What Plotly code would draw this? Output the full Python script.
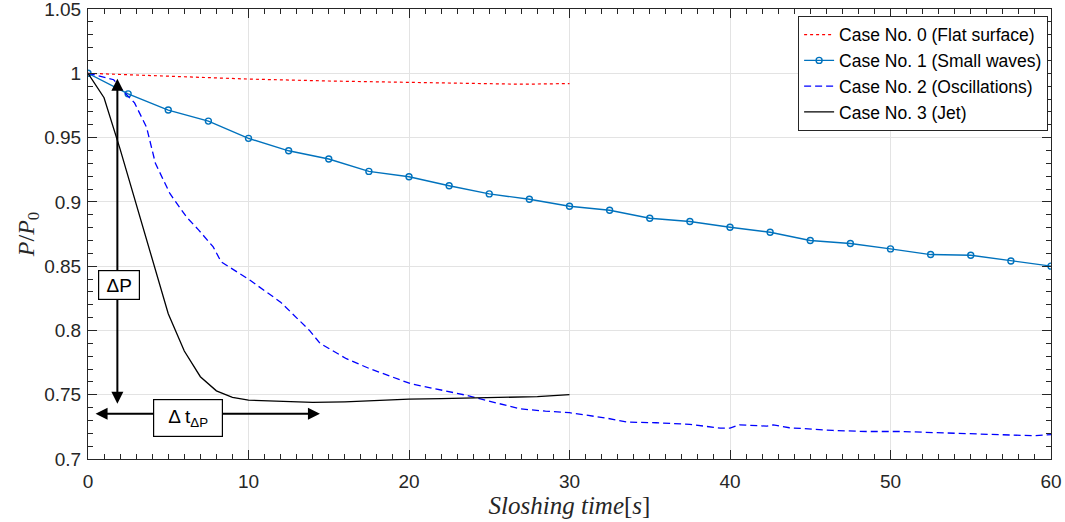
import plotly.graph_objects as go

# Pressure ratio P/P0 versus sloshing time for the four test cases
t_case0 = [0, 2, 5, 10, 15, 20, 25, 27, 30]
p_case0 = [1.0, 0.999, 0.9975, 0.9955, 0.994, 0.993, 0.9918, 0.9915, 0.992]

t_case1 = [0, 2.5, 5, 7.5, 10, 12.5, 15, 17.5, 20, 22.5, 25, 27.5, 30,
           32.5, 35, 37.5, 40, 42.5, 45, 47.5, 50, 52.5, 55, 57.5, 60]
p_case1 = [1.0, 0.984, 0.9714, 0.9628, 0.9494, 0.9397, 0.9333, 0.9237, 0.9195,
           0.9125, 0.9062, 0.902, 0.8966, 0.8935, 0.8873, 0.8847, 0.8803, 0.8764,
           0.8699, 0.8676, 0.8634, 0.859, 0.8585, 0.854, 0.850]

t_case2 = [0, 1.6, 2.2, 2.9, 3.65, 4.0, 4.2, 5.1, 6.15, 6.9, 7.8, 8.3, 10.1, 12.0,
           13.8, 14.45, 16.1, 17.6, 20.1, 23.6, 26.9, 28.5, 30, 32.3, 33.6, 35.4,
           37.5, 39.4, 40, 40.6, 42.3, 42.7, 43.7, 46.4, 48.5, 50.6, 53.3, 55.8,
           58.9, 60]
p_case2 = [1.0, 0.995, 0.986, 0.977, 0.958, 0.940, 0.930, 0.9065, 0.888, 0.878,
           0.865, 0.8533, 0.839, 0.822, 0.800, 0.790, 0.778, 0.770, 0.7586, 0.7495,
           0.739, 0.7372, 0.736, 0.7318, 0.7287, 0.7282, 0.7269, 0.724, 0.724,
           0.7266, 0.7255, 0.7266, 0.7243, 0.7222, 0.7214, 0.7214, 0.7204, 0.719,
           0.7181, 0.7189]

t_case3 = [0, 1, 2, 3, 4, 5, 6, 7, 8, 9, 10, 12, 14, 16, 18, 20, 22, 24, 26, 28, 30]
p_case3 = [1.0, 0.981, 0.941, 0.899, 0.856, 0.813, 0.784, 0.764, 0.753, 0.748,
           0.7458, 0.7448, 0.744, 0.7445, 0.7455, 0.7466, 0.747, 0.7474, 0.7478,
           0.7485, 0.750]

series_names = ["Case No. 0 (Flat surface)", "Case No. 1 (Small waves)",
                "Case No. 2 (Oscillations)", "Case No. 3 (Jet)"]

y_ticks = [0.7, 0.75, 0.8, 0.85, 0.9, 0.95, 1.0, 1.05]
y_ticklabels = ["0.7", "0.75", "0.8", "0.85", "0.9", "0.95", "1", "1.05"]

# Pressure drop / drop duration markers
dp_time = 1.83
dp_top, dp_bottom = 0.9961, 0.743
dt_level = 0.7352
dt_start, dt_end = 0.44, 14.45

AX = "#262626"
GRID = "#e3e3e3"
SANS = "Liberation Sans, Arial, sans-serif"
SERIF = "Liberation Serif, DejaVu Serif, serif"

fig = go.Figure()
fig.add_trace(go.Scatter(x=t_case0, y=p_case0, mode="lines", name=series_names[0],
                         line=dict(color="#ff0000", width=1.2, dash="dot")))
fig.add_trace(go.Scatter(x=t_case1, y=p_case1, mode="lines+markers", name=series_names[1],
                         line=dict(color="#0072BD", width=1.4),
                         marker=dict(symbol="circle-open", size=6,
                                     line=dict(color="#0072BD", width=1.4))))
fig.add_trace(go.Scatter(x=t_case2, y=p_case2, mode="lines", name=series_names[2],
                         line=dict(color="#0000ff", width=1.3, dash="7px,4px")))
fig.add_trace(go.Scatter(x=t_case3, y=p_case3, mode="lines", name=series_names[3],
                         line=dict(color="#000000", width=1.3)))

arrow_common = dict(xref="x", yref="y", axref="x", ayref="y", text="",
                    font=dict(size=1), borderpad=0,
                    showarrow=True, arrowhead=2, arrowside="end+start",
                    arrowsize=1.2, arrowwidth=2, arrowcolor="#000000")
fig.add_annotation(x=dp_time, y=dp_bottom, ax=dp_time, ay=dp_top, **arrow_common)
fig.add_annotation(x=dt_end, y=dt_level, ax=dt_start, ay=dt_level, **arrow_common)

box_common = dict(xref="x", yref="y", showarrow=False, bgcolor="white",
                  bordercolor="#000000", borderwidth=1.2, borderpad=2,
                  font=dict(family=SANS, size=19, color="#000000"))
fig.add_annotation(x=dp_time + 0.1, y=0.8355, text="\u0394P",
                   width=36, height=24, **box_common)
fig.add_annotation(x=6.23, y=0.7319, text="\u0394 t<sub>\u0394P</sub>",
                   width=64, height=32, **box_common)

minor_x = dict(tickmode="linear", tick0=0, dtick=1, ticks="inside", ticklen=5,
               tickcolor=AX, tickwidth=1, showgrid=False)
minor_y = dict(tickmode="linear", tick0=0.7, dtick=0.01, ticks="inside", ticklen=5,
               tickcolor=AX, tickwidth=1, showgrid=False)

fig.update_layout(
    width=1065, height=522,
    margin=dict(l=88, r=14, t=9, b=63, autoexpand=False),
    paper_bgcolor="white", plot_bgcolor="white",
    font=dict(family=SANS, color=AX),
    showlegend=True,
    legend=dict(x=0.997, y=0.985, xanchor="right", yanchor="top",
                bgcolor="white", bordercolor=AX, borderwidth=1,
                font=dict(family=SANS, size=17.5, color="#000000"),
                itemwidth=30, tracegroupgap=0),
    xaxis=dict(range=[0, 60], tickmode="linear", dtick=10, tick0=0,
               automargin=False,
               showgrid=True, gridcolor=GRID, gridwidth=1, zeroline=False,
               showline=True, linecolor=AX, linewidth=1, mirror="ticks",
               ticks="inside", ticklen=9, tickcolor=AX, tickwidth=1,
               tickfont=dict(family=SANS, size=19, color=AX),
               ticklabelstandoff=5, ticklabeloverflow="allow",
               minor=minor_x,
               title=dict(text="<i>Sloshing time</i>[<i>s</i>]",
                          font=dict(family=SERIF, size=25, color=AX), standoff=4)),
    yaxis=dict(range=[0.7, 1.05], tickmode="array", tickvals=y_ticks,
               ticktext=y_ticklabels, automargin=False,
               showgrid=True, gridcolor=GRID, gridwidth=1, zeroline=False,
               showline=True, linecolor=AX, linewidth=1, mirror="ticks",
               ticks="inside", ticklen=9, tickcolor=AX, tickwidth=1,
               tickfont=dict(family=SANS, size=19, color=AX),
               ticklabelstandoff=2, ticklabeloverflow="allow",
               minor=minor_y,
               title=dict(text="<i>P</i>/<i>P</i><sub>0</sub>",
                          font=dict(family=SERIF, size=24, color=AX), standoff=2)),
)

fig.write_html("out.html")
